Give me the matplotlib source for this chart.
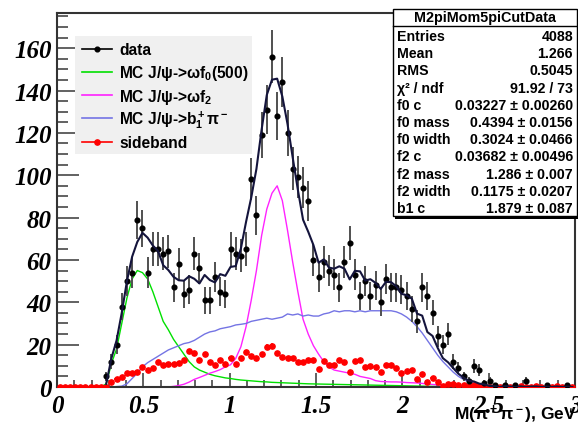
import numpy as np
import matplotlib.pyplot as plt
from matplotlib.patches import Rectangle
from matplotlib.lines import Line2D
from matplotlib.ticker import MultipleLocator, FuncFormatter

plt.rcParams['font.family'] = ['Liberation Sans', 'DejaVu Sans']
plt.rcParams['mathtext.fontset'] = 'custom'
plt.rcParams['mathtext.rm'] = 'Liberation Sans:bold'
plt.rcParams['mathtext.it'] = 'Liberation Sans:bold'
plt.rcParams['mathtext.bf'] = 'Liberation Sans:bold'

# M(pi+pi-) histogram: 100 bins from 0 to 3 GeV
NBINS = 100
edges = np.linspace(0, 3, NBINS + 1)
centers = 0.5 * (edges[:-1] + edges[1:])

data_counts = [
    0, 0, 0, 0, 0, 0, 0, 0, 0, 5,
    12, 20, 38, 50, 54, 79, 75, 54, 65, 65,
    63, 64, 47, 58, 44, 46, 63, 56, 41, 41,
    52, 45, 44, 65, 63, 62, 65, 98, 81, 119,
    131, 156, 128, 144, 120, 103, 99, 94, 88, 60,
    52, 59, 55, 53, 47, 59, 68, 53, 43, 50,
    43, 48, 40, 51, 47, 47, 46, 43, 37, 31,
    47, 43, 35, 24, 20, 25, 12, 9, 5, 3,
    10, 8, 2, 3, 1, 0, 1, 0, 1, 0,
    3, 0, 0, 0, 1, 0, 0, 0, 1, 0,
]

sideband = [
    0, 0, 0, 0, 0, 0, 0, 0, 0, 0,
    2.5, 3.8, 4.6, 6.5, 6.5, 7.0, 9.3, 8.0, 8.8, 11.7,
    10.5, 10.7, 10.7, 11.2, 12.9, 17.0, 16.0, 12.9, 15.4, 12.0,
    10.3, 12.8, 10.7, 13.7, 10.7, 13.5, 16.4, 14.6, 13.8, 15.5,
    19.0, 19.4, 16.0, 14.2, 13.8, 13.6, 11.9, 11.9, 12.8, 12.6,
    8.3, 12.4, 10.6, 10.6, 12.8, 11.7, 7.2, 12.3, 12.6, 9.3,
    10.0, 9.3, 6.9, 10.4, 10.4, 9.0, 6.6, 7.7, 8.2, 3.8,
    6.1, 2.2, 4.1, 2.2, 0.6, 1.4, 1.4, 1.0, 0.8, 0.5,
    0.8, 0.4, 0.5, 0.2, 0.3, 0.0, 0.4, 0.2, 0.0, 0.3,
    0.0, 0.2, 0.3, 0.0, 0.2, 0.0, 0.3, 0.0, 0.2, 0.0,
]

mc_f0 = [
    0, 0, 0, 0, 0, 0, 0, 0, 0, 1.5,
    11, 18, 30, 42, 51, 55, 54, 51, 45, 38,
    31, 27, 22.5, 19, 15.5, 12, 9.5, 8, 7, 6,
    5.3, 4.8, 4.3, 4.0, 3.6, 3.3, 3.1, 2.9, 2.7, 2.5,
    2.4, 2.2, 2.1, 2.0, 1.9, 1.8, 1.7, 1.6, 1.5, 1.45,
    1.4, 1.35, 1.3, 1.25, 1.2, 1.15, 1.1, 1.05, 1.0, 0.95,
    0.9, 0.85, 0.8, 0.75, 0.7, 0.65, 0.6, 0.55, 0.5, 0.45,
    0.4, 0.35, 0.3, 0.25, 0.2, 0.15, 0.1, 0.05, 0, 0,
    0, 0, 0, 0, 0, 0, 0, 0, 0, 0,
    0, 0, 0, 0, 0, 0, 0, 0, 0, 0,
]

mc_f2 = [
    0, 0, 0, 0, 0, 0, 0, 0, 0, 0,
    0, 0, 0, 0, 0, 0, 0, 0, 0, 0,
    0, 0, 0.3, 0.7, 1.3, 2.3, 3.6, 4.5, 5.5, 6.5,
    7.3, 8.2, 9.5, 10.5, 13.5, 19, 28.5, 41, 55, 71.5,
    84, 91.5, 95, 88, 74, 59, 45, 32, 25, 19.5,
    15.5, 12, 9.5, 8, 7.5, 7, 6.5, 6, 5, 4.5,
    4, 3, 2.6, 2.5, 2.4, 2.4, 2.3, 2.1, 2.0, 1.9,
    1.7, 1.4, 1.2, 1.0, 0.8, 0.6, 0.4, 0.2, 0.1, 0,
    0, 0, 0, 0, 0, 0, 0, 0, 0, 0,
    0, 0, 0, 0, 0, 0, 0, 0, 0, 0,
]

mc_b1 = [
    0, 0, 0, 0, 0, 0, 0, 0, 0, 0,
    0, 0.2, 0.4, 1.5, 4, 6.5, 9.5, 11.5, 13, 14.5,
    16, 17.5, 18.5, 19.5, 20.5, 21, 22, 23.5, 25, 26,
    26.5, 27.5, 28, 28.5, 29.3, 29.6, 30, 31, 31.5, 32,
    32.5, 32, 32.5, 33, 34.5, 34, 34.5, 33.5, 34, 33.5,
    33.5, 34.5, 35, 36, 35.5, 36, 36, 35.5, 36, 35.5,
    36, 36, 36, 36, 36, 35.5, 34.5, 33, 31, 28.5,
    25.5, 22, 18.5, 15, 12, 9.5, 7, 5, 3.5, 2.5,
    1.8, 1.2, 0.7, 0.3, 0.1, 0, 0, 0, 0, 0,
    0, 0, 0, 0, 0, 0, 0, 0, 0, 0,
]

legend_labels = ['data', 'MC J/ψ->ωf$_0$(500)', 'MC J/ψ->ωf$_2$',
                 'MC J/ψ->b$_1^+$π$^-$', 'sideband']

stat_title = 'M2piMom5piCutData'
stat_names = ['Entries', 'Mean', 'RMS', 'χ² / ndf', 'f0 c', 'f0 mass',
              'f0 width', 'f2 c', 'f2 mass', 'f2 width', 'b1 c']
stat_values = ['4088', '1.266', '0.5045', '91.92 / 73',
               '0.03227 ± 0.00260', '0.4394 ± 0.0156', '0.3024 ± 0.0466',
               '0.03682 ± 0.00496', '1.286 ± 0.007', '0.1175 ± 0.0207',
               '1.879 ± 0.087']

data_counts = np.array(data_counts, float)
sideband = np.array(sideband, float)
mc_f0 = np.array(mc_f0, float)
mc_f2 = np.array(mc_f2, float)
mc_b1 = np.array(mc_b1, float)
fit_total = mc_f0 + mc_f2 + mc_b1 + sideband

C_FIT = '#14143c'
C_F0 = '#00e000'
C_F2 = '#ff22ff'
C_B1 = '#7474e4'
C_SB = '#ff0000'

W, H = 578, 435
fig = plt.figure(figsize=(W / 100, H / 100), dpi=100)
ax = fig.add_axes([57 / W, 1 - 388 / H, 518 / W, 374 / H])

def fx(px):
    return px / W

def fy(py):
    return 1 - py / H

start = 8
ax.plot(centers[start:], mc_f0[start:], color=C_F0, lw=1.0, zorder=2)
ax.plot(centers[start:], mc_f2[start:], color=C_F2, lw=1.0, zorder=2)
ax.plot(centers[start:], mc_b1[start:], color=C_B1, lw=1.0, zorder=2)

ax.errorbar(centers, sideband, xerr=0.012, yerr=np.sqrt(0.08 * sideband),
            fmt='o', color=C_SB, ms=3.8, elinewidth=1.1, capsize=0, zorder=3)

nz = data_counts > 0
ax.errorbar(centers[nz], data_counts[nz], yerr=np.sqrt(data_counts[nz]),
            fmt='o', color='black', ms=3.4, ecolor='#505050',
            elinewidth=1.4, capsize=0, zorder=4)

ax.plot(centers[9:], fit_total[9:], color=C_FIT, lw=1.5, zorder=5)

ax.set_xlim(0, 3)
ax.set_ylim(0, 176.6)
ax.xaxis.set_major_locator(MultipleLocator(0.5))
ax.xaxis.set_minor_locator(MultipleLocator(0.1))
ax.yaxis.set_major_locator(MultipleLocator(20))
ax.yaxis.set_minor_locator(MultipleLocator(5))
fmt = FuncFormatter(lambda v, _: f'{v:g}')
ax.xaxis.set_major_formatter(fmt)
ax.yaxis.set_major_formatter(fmt)
ax.tick_params(axis='both', which='both', direction='in', color='#555555',
               width=1.3, top=False, right=False)
ax.tick_params(axis='y', which='major', length=16, pad=4)
ax.tick_params(axis='y', which='minor', length=8)
ax.tick_params(axis='x', which='major', length=10, pad=5)
ax.tick_params(axis='x', which='minor', length=5)
for lab in ax.get_xticklabels() + ax.get_yticklabels():
    lab.set_fontfamily('Liberation Serif')
    lab.set_fontstyle('italic')
    lab.set_fontweight('bold')
    lab.set_fontsize(18)
for sp in ax.spines.values():
    sp.set_color('#333333')
    sp.set_linewidth(1.5)

fig.text(fx(577), fy(420), 'M(π$^+$π$^-$), GeV', ha='right', va='baseline',
         fontsize=12.5, fontweight='bold')

# legend box
fig.patches.append(Rectangle((fx(75), fy(155)), (252 - 75) / W, (155 - 37) / H,
                             transform=fig.transFigure, facecolor='#f0f0f0',
                             edgecolor='none', zorder=6))
styles = [
    dict(color='black', marker='o', ms=3.4, lw=1.2),
    dict(color=C_F0, lw=1.2),
    dict(color=C_F2, lw=1.2),
    dict(color=C_B1, lw=1.2),
    dict(color=C_SB, marker='o', ms=3.8, lw=1.2),
]
for k, (lab, st) in enumerate(zip(legend_labels, styles)):
    yrow = 49.5 + 23.3 * k
    fig.add_artist(Line2D([fx(82), fx(112)], [fy(yrow), fy(yrow)],
                          color=st['color'], lw=st['lw'],
                          transform=fig.transFigure, zorder=7))
    if 'marker' in st:
        fig.add_artist(Line2D([fx(97)], [fy(yrow)], marker='o', ms=st['ms'],
                              color=st['color'], lw=0,
                              transform=fig.transFigure, zorder=8))
    fig.text(fx(119), fy(yrow + 5.5), lab, ha='left', va='baseline',
             fontsize=11.2, fontweight='bold', zorder=8)

# statistics box
fig.patches.append(Rectangle((fx(395), fy(220)), 184 / W, 207 / H,
                             transform=fig.transFigure, facecolor='black',
                             edgecolor='none', zorder=9))
fig.patches.append(Rectangle((fx(393), fy(217)), 184 / W, 207 / H,
                             transform=fig.transFigure, facecolor='white',
                             edgecolor='black', lw=1.0, zorder=10))
fig.add_artist(Line2D([fx(393), fx(577)], [fy(27), fy(27)], color='black',
                      lw=1.0, transform=fig.transFigure, zorder=11))
fig.text(fx(485), fy(18), stat_title, ha='center', va='center',
         fontsize=10.4, fontweight='bold', zorder=11)
for k, (name, val) in enumerate(zip(stat_names, stat_values)):
    yrow = 37 + 17.2 * k
    fig.text(fx(397), fy(yrow), name, ha='left', va='center',
             fontsize=10.2, fontweight='bold', zorder=11)
    fig.text(fx(573), fy(yrow), val, ha='right', va='center',
             fontsize=10.2, fontweight='bold', zorder=11)

fig.savefig('out.png', dpi=100)
